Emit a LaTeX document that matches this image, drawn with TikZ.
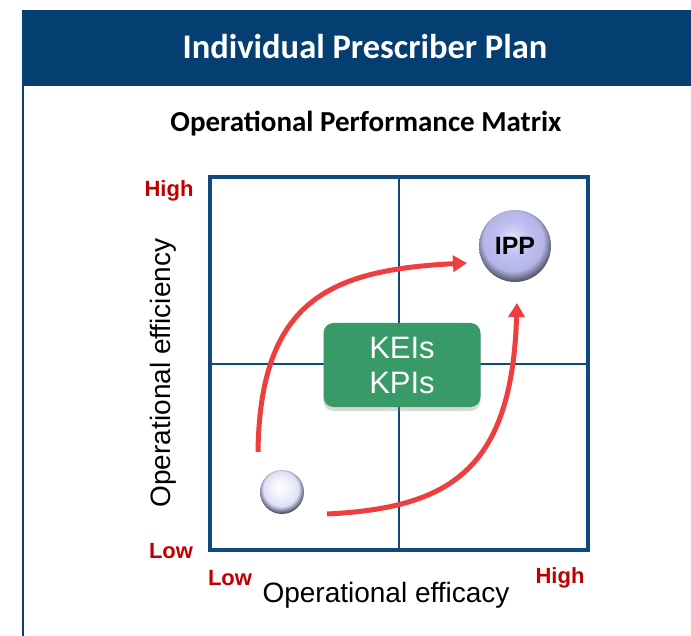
\documentclass[tikz,border=0pt]{standalone}
\usepackage{fontspec}
\usepackage{xcolor}
\usepackage{tikz}
\usetikzlibrary{arrows.meta, shadows}
\newfontfamily\calibri{Carlito}
\newfontfamily\arial{Liberation Sans}
\definecolor{bandblue}{HTML}{053F71}
\definecolor{gridblue}{HTML}{0E4A7E}
\definecolor{lvlred}{HTML}{C00000}
\definecolor{kgreen}{HTML}{389A66}
\definecolor{arrred}{HTML}{EE3E3E}
\definecolor{lavender}{HTML}{BEBEF2}
\pgfdeclareradialshading{ippball}{\pgfpoint{-2bp}{6bp}}{%
    color(0bp)=(lavender!45!white); color(12bp)=(lavender); color(21bp)=(lavender!95!black);
    color(27bp)=(lavender!45!black); color(50bp)=(lavender!45!black)}
\pgfdeclareradialshading{lowball}{\pgfpoint{-2bp}{6bp}}{%
    color(0bp)=(white); color(12bp)=(lavender!25!white); color(20bp)=(lavender!50!white);
    color(27bp)=(lavender!40!black); color(50bp)=(lavender!40!black)}

\begin{document}
\begin{tikzpicture}[x=1pt, y=-1pt,
    level/.style={font=\arial\bfseries\fontsize{22}{22}\selectfont, text=lvlred, inner sep=0pt},
    axis/.style={font=\arial\fontsize{28}{28}\selectfont, inner sep=0pt},
    path arrow/.style={draw=arrred, line width=5pt, -{Triangle[length=14pt,width=16pt]}}]
    \useasboundingbox (0,0) rectangle (691,636);
    % header band and frame
    \fill[bandblue] (22,10) rectangle (691,86);
    \draw[bandblue, line width=2pt] (23,86) -- (23,636);
    \node[font=\calibri\bfseries\fontsize{34.5}{34.5}\selectfont, text=white] (title) at (365,47) {Individual Prescriber Plan};
    \node[font=\calibri\bfseries\fontsize{29}{29}\selectfont] (sub) at (366,124) {Operational Performance Matrix};
    % matrix
    \draw[gridblue, line width=1.5pt] (399,177) -- (399,550) (210,364) -- (588,364);
    \draw[gridblue, line width=4pt] (210,177) rectangle (588,550);
    \node[level] (yhi) at (169,191) {High};
    \node[level] (ylo) at (171,551) {Low};
    \node[level] (xlo) at (230,578) {Low};
    \node[level] (xhi) at (560,578) {High};
    \node[axis] (xlab) at (386,595) {Operational efficacy};
    \node[axis, rotate=90] (ylab) at (163,373) {Operational efficiency};
    % key box
    \node[rounded corners=10pt, fill=kgreen, minimum width=157pt, minimum height=84pt,
          text=white, align=center, font=\arial\fontsize{31}{35}\selectfont,
          drop shadow={opacity=0.3, shadow xshift=0pt, shadow yshift=-4pt}] (kpi) at (402,365) {KEIs\\KPIs};
    % balls
    \node[circle, shading=ippball, minimum size=72pt, inner sep=0pt,
          font=\arial\bfseries\fontsize{25}{25}\selectfont] (ipp) at (515,246) {IPP};
    \node[circle, shading=lowball, minimum size=44pt, inner sep=0pt] (lo) at (282,492) {};
    % arrows
    \coordinate (a1s) at (258,452);
    \coordinate (a1e) at (467,263);
    \coordinate (a2s) at (327,514);
    \coordinate (a2e) at (517,303);
    \draw[path arrow] (a1s) .. controls (260,300) and (330,270) .. (a1e);
    \draw[path arrow] (a2s) .. controls (450,508) and (512,470) .. (a2e);
\end{tikzpicture}
\end{document}
